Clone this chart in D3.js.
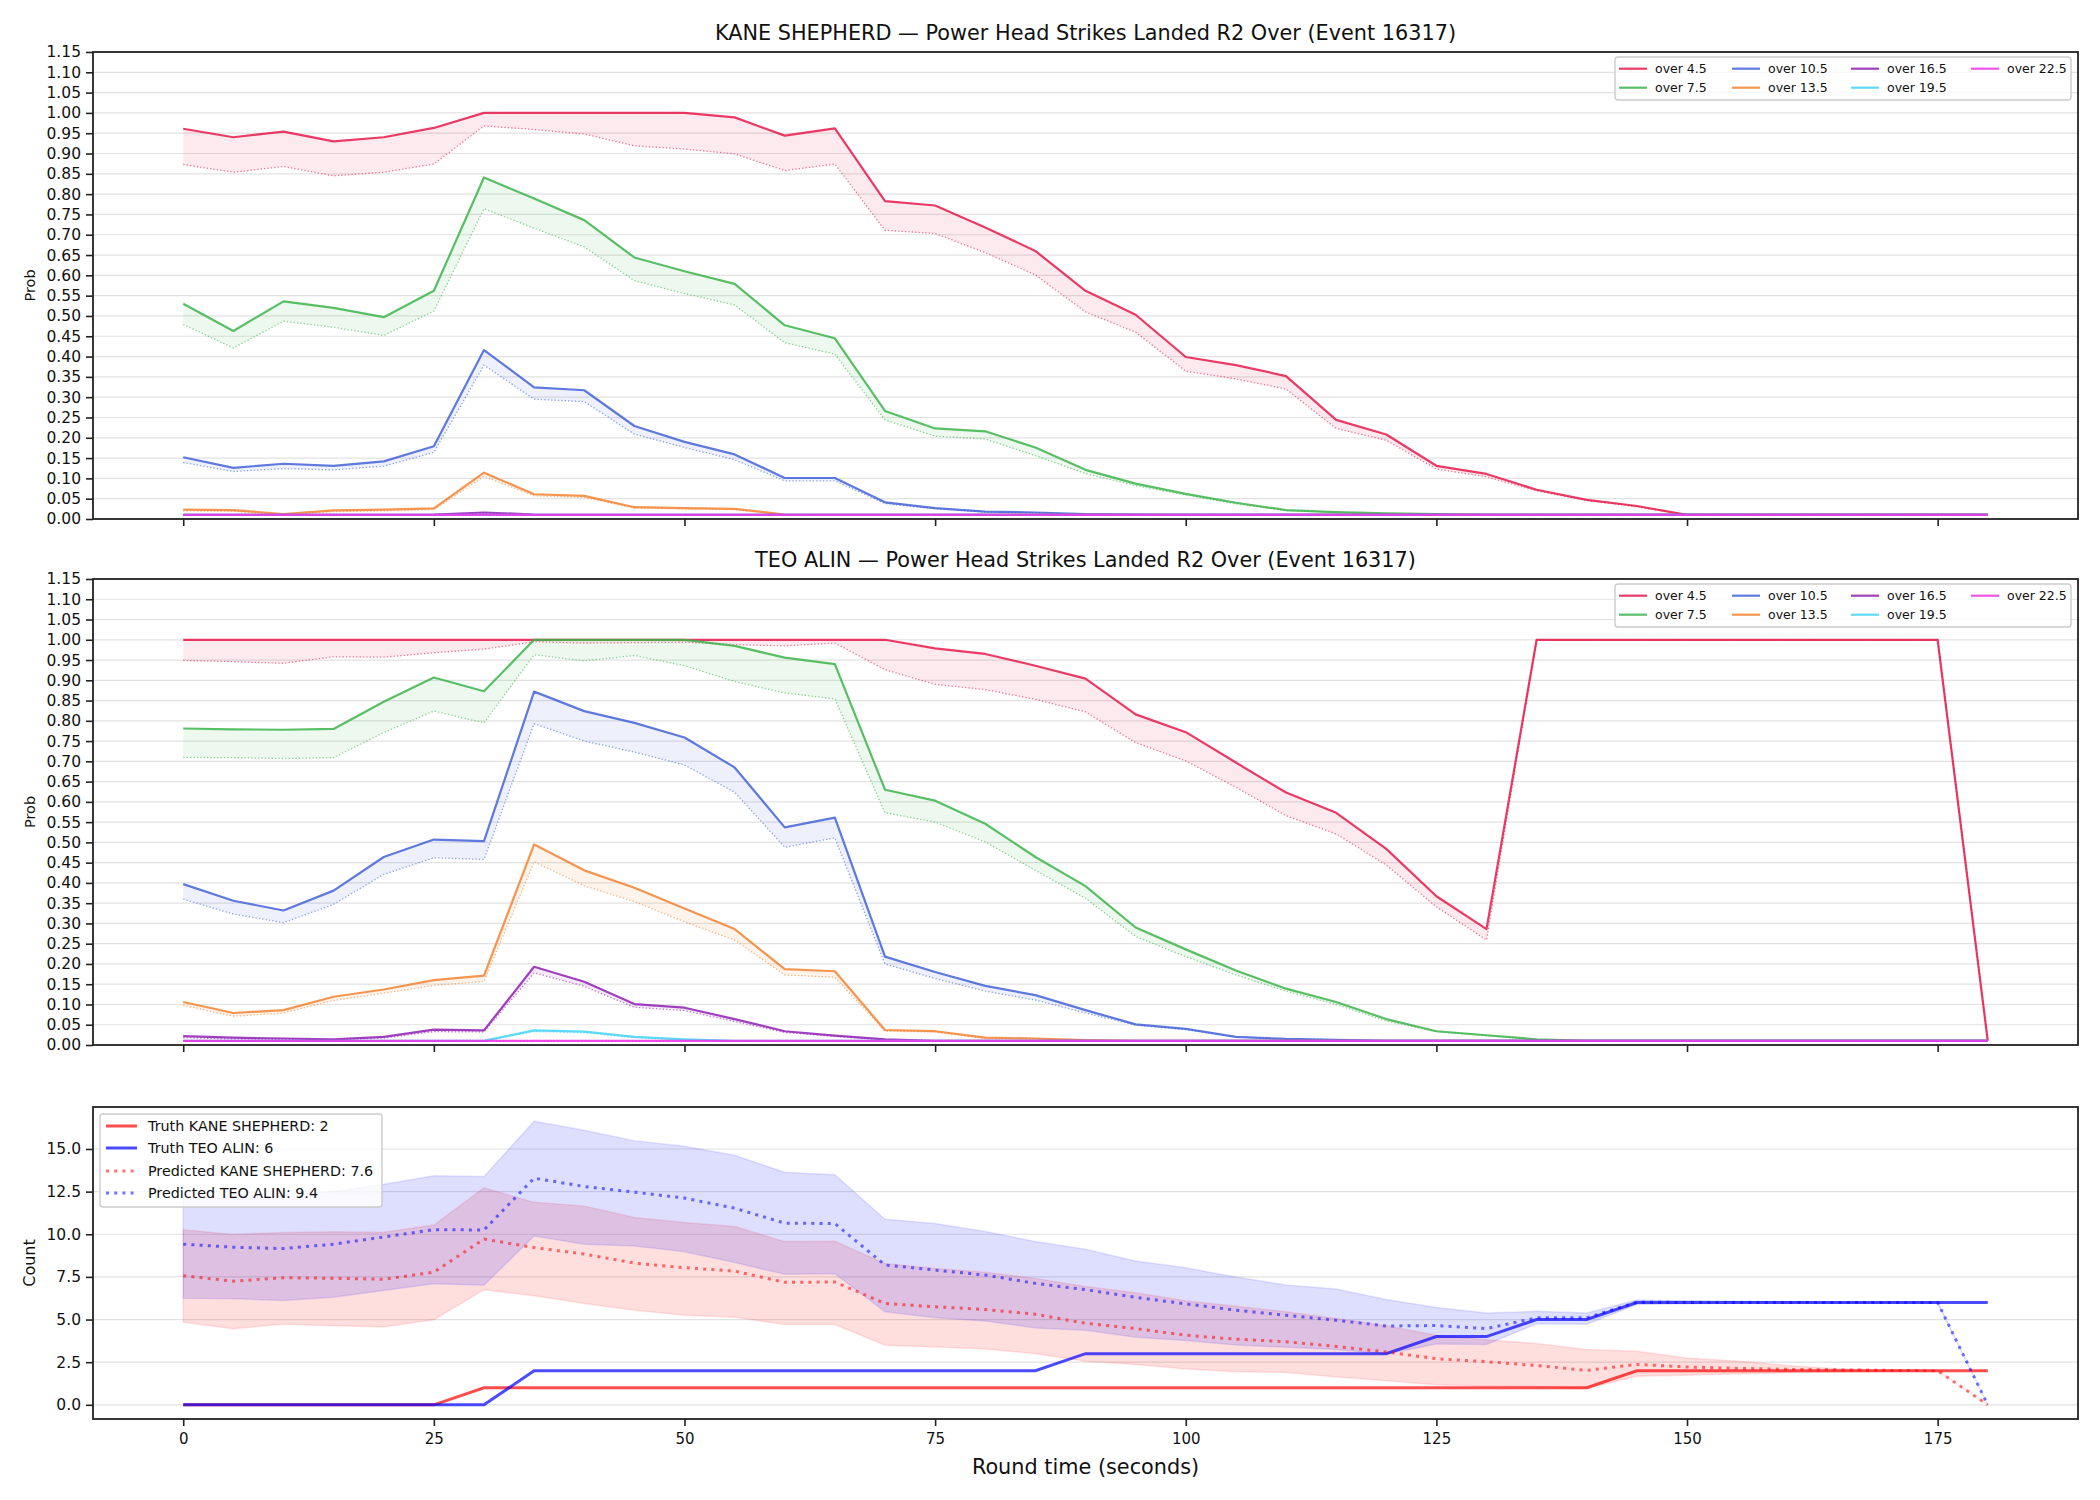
<!DOCTYPE html>
<html><head><meta charset="utf-8">
<script src="https://cdn.jsdelivr.net/npm/d3@7"></script>
<style>body{margin:0;background:#fff;}svg{display:block;font-family:"DejaVu Sans",sans-serif;}</style>
</head><body>
<svg id="chart" width="2100" height="1500"></svg>
<script>
// ---------- data ----------
const times = [0,5,10,15,20,25,30,35,40,45,50,55,60,65,70,75,80,85,90,95,100,105,110,115,120,125,130,135,140,145,150,155,160,165,170,175,180];
const lineNames = ["over 4.5","over 7.5","over 10.5","over 13.5","over 16.5","over 19.5","over 22.5"];
const lineColors = ["#e6194b","#3cb44b","#4363d8","#f58231","#911eb4","#42d4f4","#f032e6"];
const probTicks = [0,0.05,0.10,0.15,0.20,0.25,0.30,0.35,0.40,0.45,0.50,0.55,0.60,0.65,0.70,0.75,0.80,0.85,0.90,0.95,1.00,1.05,1.10,1.15];
const timeTicks = [0,25,50,75,100,125,150,175];
const countTicks = [0,2.5,5,7.5,10,12.5,15];

// KANE SHEPHERD: solid (upper) and dotted (lower) curves per line
const kane45  = [.961,.940,.954,.930,.940,.963,1,1,1,1,1,.989,.944,.962,.783,.772,.718,.660,.562,.503,.399,.379,.352,.244,.208,.131,.111,.072,.047,.032,.01,.01,.01,.01,.01,.01,.01];
const kane45b = [.873,.854,.868,.845,.854,.874,.968,.959,.948,.919,.911,.899,.858,.874,.711,.703,.656,.601,.51,.46,.364,.345,.32,.223,.194,.123,.104,.069,.046,.03,.01,.01,.01,.01,.01,.01,.01];
const kane75  = [.530,.463,.536,.520,.497,.562,.841,.789,.736,.644,.610,.579,.477,.445,.266,.223,.216,.176,.121,.087,.062,.040,.022,.017,.014,.012,.01,.01,.01,.01,.01,.01,.01,.01,.01,.01,.01];
const kane75b = [.479,.421,.487,.472,.452,.512,.764,.716,.670,.587,.555,.527,.434,.406,.244,.204,.197,.156,.112,.082,.059,.037,.021,.016,.013,.011,.01,.01,.01,.01,.01,.01,.01,.01,.01,.01,.01];
const kane105 = [.152,.126,.136,.131,.142,.179,.416,.324,.317,.229,.190,.159,.101,.101,.041,.027,.018,.016,.012,.011,.01,.01,.01,.01,.01,.01,.01,.01,.01,.01,.01,.01,.01,.01,.01,.01,.01];
const kane105b= [.139,.117,.124,.121,.130,.164,.379,.295,.289,.209,.176,.146,.094,.094,.038,.025,.017,.015,.012,.011,.01,.01,.01,.01,.01,.01,.01,.01,.01,.01,.01,.01,.01,.01,.01,.01,.01];
const kane135 = [.023,.022,.012,.021,.023,.026,.114,.061,.057,.029,.027,.025,.011,.01,.01,.01,.01,.01,.01,.01,.01,.01,.01,.01,.01,.01,.01,.01,.01,.01,.01,.01,.01,.01,.01,.01,.01];
const kane135b= [.020,.019,.011,.018,.020,.023,.105,.057,.053,.027,.025,.023,.010,.01,.01,.01,.01,.01,.01,.01,.01,.01,.01,.01,.01,.01,.01,.01,.01,.01,.01,.01,.01,.01,.01,.01,.01];
const kane165 = [.01,.01,.01,.01,.01,.011,.016,.011,.01,.01,.01,.01,.01,.01,.01,.01,.01,.01,.01,.01,.01,.01,.01,.01,.01,.01,.01,.01,.01,.01,.01,.01,.01,.01,.01,.01,.01];
const kane165b= [.01,.01,.01,.01,.01,.011,.014,.01,.01,.01,.01,.01,.01,.01,.01,.01,.01,.01,.01,.01,.01,.01,.01,.01,.01,.01,.01,.01,.01,.01,.01,.01,.01,.01,.01,.01,.01];
const kane195 = [.01,.01,.01,.01,.01,.01,.01,.01,.01,.01,.01,.01,.01,.01,.01,.01,.01,.01,.01,.01,.01,.01,.01,.01,.01,.01,.01,.01,.01,.01,.01,.01,.01,.01,.01,.01,.01];
const kane195b= kane195;
const kane225 = [.01,.01,.01,.01,.01,.01,.01,.01,.01,.01,.01,.01,.01,.01,.01,.01,.01,.01,.01,.01,.01,.01,.01,.01,.01,.01,.01,.01,.01,.01,.01,.01,.01,.01,.01,.01,.01];
const kane225b= kane225;

// TEO ALIN
const teo45  = [1,1,1,1,1,1,1,1,1,1,1,1,1,1,1,.979,.965,.936,.904,.816,.772,.697,.623,.573,.484,.367,.286,1,1,1,1,1,1,1,1,1,.01];
const teo45b = [.949,.946,.942,.958,.957,.968,.977,.995,.992,.993,.994,.988,.985,.992,.926,.890,.877,.853,.822,.746,.701,.636,.566,.521,.444,.341,.259,1,1,1,1,1,1,1,1,1,.01];
const teo75  = [.781,.779,.778,.780,.847,.907,.873,1,1,1,1,.985,.956,.940,.630,.603,.546,.464,.392,.290,.236,.184,.139,.106,.064,.034,.024,.014,.01,.01,.01,.01,.01,.01,.01,.01,.01];
const teo75b = [.710,.709,.707,.709,.771,.824,.795,.963,.948,.961,.936,.897,.869,.854,.573,.550,.501,.431,.362,.268,.218,.173,.133,.100,.059,.033,.023,.013,.01,.01,.01,.01,.01,.01,.01,.01,.01];
const teo105 = [.397,.356,.332,.381,.464,.507,.503,.872,.824,.795,.759,.685,.537,.561,.218,.180,.146,.123,.086,.051,.040,.020,.015,.013,.01,.01,.01,.01,.01,.01,.01,.01,.01,.01,.01,.01,.01];
const teo105b= [.360,.323,.302,.347,.421,.462,.458,.793,.750,.723,.691,.624,.488,.511,.200,.164,.133,.111,.079,.049,.038,.020,.015,.013,.01,.01,.01,.01,.01,.01,.01,.01,.01,.01,.01,.01,.01];
const teo135 = [.106,.079,.086,.119,.137,.160,.171,.495,.431,.388,.337,.286,.187,.182,.037,.034,.018,.016,.012,.01,.01,.01,.01,.01,.01,.01,.01,.01,.01,.01,.01,.01,.01,.01,.01,.01,.01];
const teo135b= [.098,.071,.079,.110,.128,.147,.157,.452,.393,.354,.304,.259,.173,.167,.034,.032,.016,.015,.012,.01,.01,.01,.01,.01,.01,.01,.01,.01,.01,.01,.01,.01,.01,.01,.01,.01,.01];
const teo165 = [.022,.018,.016,.014,.020,.038,.036,.193,.156,.101,.092,.064,.034,.023,.014,.01,.01,.01,.01,.01,.01,.01,.01,.01,.01,.01,.01,.01,.01,.01,.01,.01,.01,.01,.01,.01,.01];
const teo165b= [.018,.015,.014,.013,.017,.033,.032,.178,.145,.093,.085,.058,.031,.021,.013,.01,.01,.01,.01,.01,.01,.01,.01,.01,.01,.01,.01,.01,.01,.01,.01,.01,.01,.01,.01,.01,.01];
const teo195 = [.01,.01,.01,.01,.01,.01,.01,.036,.033,.020,.014,.01,.01,.01,.01,.01,.01,.01,.01,.01,.01,.01,.01,.01,.01,.01,.01,.01,.01,.01,.01,.01,.01,.01,.01,.01,.01];
const teo195b= [.01,.01,.01,.01,.01,.01,.01,.033,.030,.018,.013,.01,.01,.01,.01,.01,.01,.01,.01,.01,.01,.01,.01,.01,.01,.01,.01,.01,.01,.01,.01,.01,.01,.01,.01,.01,.01];
const teo225 = [.01,.01,.01,.01,.01,.01,.01,.01,.01,.01,.01,.01,.01,.01,.01,.01,.01,.01,.01,.01,.01,.01,.01,.01,.01,.01,.01,.01,.01,.01,.01,.01,.01,.01,.01,.01,.01];
const teo225b= teo225;

// Count panel
const truthKane = [0,0,0,0,0,0,1,1,1,1,1,1,1,1,1,1,1,1,1,1,1,1,1,1,1,1,1,1,1,2,2,2,2,2,2,2,2];
const truthTeo  = [0,0,0,0,0,0,0,2,2,2,2,2,2,2,2,2,2,2,3,3,3,3,3,3,3,4,4,5,5,6,6,6,6,6,6,6,6];
const predKane  = [7.57,7.25,7.45,7.42,7.36,7.78,9.72,9.22,8.84,8.31,8.04,7.84,7.18,7.20,5.94,5.75,5.59,5.31,4.78,4.47,4.08,3.85,3.70,3.42,3.10,2.70,2.53,2.30,2.02,2.37,2.22,2.14,2.08,2.05,2.02,2.0,0];
const predTeo   = [9.42,9.24,9.16,9.42,9.84,10.27,10.25,13.29,12.80,12.47,12.12,11.53,10.65,10.63,8.20,7.90,7.61,7.12,6.75,6.30,5.92,5.55,5.25,4.96,4.62,4.65,4.47,5.10,5.10,6.02,6.0,6.0,6.0,6.0,6.0,6.0,0];
const kaneHi = [10.27,9.99,10.11,10.15,10.12,10.54,12.72,11.87,11.65,10.98,10.69,10.45,9.57,9.59,8.29,8.0,7.78,7.41,6.94,6.57,6.10,5.78,5.45,5.06,4.63,4.08,3.82,3.59,3.24,3.14,2.75,2.57,2.31,2.12,2.06,2.0,0];
const kaneLo = [4.84,4.46,4.73,4.64,4.56,4.99,6.75,6.39,5.94,5.55,5.25,5.14,4.71,4.71,3.49,3.39,3.27,3.0,2.56,2.36,2.10,1.94,1.89,1.63,1.41,1.17,1.11,1.07,0.95,1.67,1.73,1.82,1.88,1.93,1.97,2.0,0];
const teoHi  = [12.2,12.1,12.3,12.5,12.93,13.43,13.38,16.63,16.10,15.49,15.16,14.63,13.63,13.49,10.88,10.63,10.16,9.57,9.12,8.43,8.03,7.49,7.03,6.79,6.18,5.70,5.39,5.48,5.39,6.14,6.1,6.08,6.06,6.05,6.05,6.05,0];
const teoLo  = [6.25,6.22,6.11,6.30,6.70,7.10,7.01,9.90,9.41,9.31,8.98,8.35,7.65,7.69,5.45,5.10,4.92,4.51,4.37,3.96,3.77,3.51,3.37,3.25,2.98,3.57,3.54,4.75,4.72,5.88,5.93,5.95,5.95,5.95,5.95,5.95,0];

const kaneSeries = [[kane45,kane45b],[kane75,kane75b],[kane105,kane105b],[kane135,kane135b],[kane165,kane165b],[kane195,kane195b],[kane225,kane225b]];
const teoSeries  = [[teo45,teo45b],[teo75,teo75b],[teo105,teo105b],[teo135,teo135b],[teo165,teo165b],[teo195,teo195b],[teo225,teo225b]];

// ---------- layout ----------
const svg = d3.select("#chart");
svg.append("rect").attr("width",2100).attr("height",1500).attr("fill","#fff");
const L = 93, R = 2078;
const panels = [{top:52,bottom:519},{top:579,bottom:1045},{top:1107,bottom:1419}];
const x = d3.scaleLinear().domain([-9,189]).range([L,R]);
const FONT = "DejaVu Sans";

function styleAxis(g, fs){
  g.select(".domain").remove();
  g.selectAll(".tick line").attr("stroke","#222").attr("stroke-width",1.6);
  g.selectAll(".tick text").attr("fill","#111").attr("font-size",fs).attr("font-family",FONT);
}

function grid(g, y, ticks){
  g.append("g").selectAll("line").data(ticks).join("line")
    .attr("x1",L).attr("x2",R).attr("y1",d=>y(d)).attr("y2",d=>y(d))
    .attr("stroke","#e2e2e2").attr("stroke-width",1.2);
}

function frame(g, p){
  g.append("rect").attr("x",L).attr("y",p.top).attr("width",R-L).attr("height",p.bottom-p.top)
    .attr("fill","none").attr("stroke","#222").attr("stroke-width",1.8);
}

function probPanel(p, series, title){
  const g = svg.append("g");
  const y = d3.scaleLinear().domain([0,1.15]).range([p.bottom,p.top]);
  grid(g, y, probTicks);
  series.forEach((s,i)=>{
    const col = lineColors[i];
    const pts = times.map((t,j)=>({t, hi:s[0][j], lo:s[1][j]}));
    g.append("path").datum(pts)
      .attr("d", d3.area().x(d=>x(d.t)).y0(d=>y(d.lo)).y1(d=>y(d.hi)))
      .attr("fill", col).attr("fill-opacity",0.09).attr("stroke","none");
    g.append("path").datum(pts)
      .attr("d", d3.line().x(d=>x(d.t)).y(d=>y(d.hi)))
      .attr("fill","none").attr("stroke",col).attr("stroke-width",2.2).attr("stroke-opacity",0.85)
      .attr("stroke-linejoin","round");
    g.append("path").datum(pts)
      .attr("d", d3.line().x(d=>x(d.t)).y(d=>y(d.lo)))
      .attr("fill","none").attr("stroke",col).attr("stroke-width",1.3).attr("stroke-opacity",0.6)
      .attr("stroke-dasharray","1.3 2.1");
  });
  const ya = g.append("g").attr("transform",`translate(${L},0)`)
    .call(d3.axisLeft(y).tickValues(probTicks).tickFormat(d3.format(".2f")).tickSize(7).tickPadding(5));
  styleAxis(ya, "15.5px");
  const xa = g.append("g").attr("transform",`translate(0,${p.bottom})`)
    .call(d3.axisBottom(x).tickValues(timeTicks).tickFormat("").tickSize(7));
  styleAxis(xa, "15px");
  frame(g, p);
  g.append("text").attr("x",(L+R)/2).attr("y",p.top-12.5).attr("text-anchor","middle")
    .attr("font-size","20.8px").attr("fill","#111").text(title);
  g.append("text").attr("transform",`translate(35,${(p.top+p.bottom)/2}) rotate(-90)`)
    .attr("text-anchor","middle").attr("font-size","14.5px").attr("fill","#111").text("Prob");
  // legend
  const lx = R-7-456, ly = p.top+5;
  const lg = g.append("g");
  lg.append("rect").attr("x",lx).attr("y",ly).attr("width",456).attr("height",43).attr("rx",3)
    .attr("fill","#fff").attr("fill-opacity",0.8).attr("stroke","#cccccc").attr("stroke-width",1.4);
  const colX = [4,117,236,356], rowY = [11.7,30.7];
  lineNames.forEach((n,i)=>{
    const cx = lx+colX[Math.floor(i/2)], cy = ly+rowY[i%2];
    lg.append("line").attr("x1",cx).attr("x2",cx+28).attr("y1",cy).attr("y2",cy)
      .attr("stroke",lineColors[i]).attr("stroke-width",2.2).attr("stroke-opacity",0.85);
    lg.append("text").attr("x",cx+36).attr("y",cy).attr("dy","0.36em")
      .attr("font-size","12.5px").attr("fill","#111").text(n);
  });
}

probPanel(panels[0], kaneSeries, "KANE SHEPHERD — Power Head Strikes Landed R2 Over (Event 16317)");
probPanel(panels[1], teoSeries, "TEO ALIN — Power Head Strikes Landed R2 Over (Event 16317)");

// ---------- count panel ----------
(function(){
  const p = panels[2];
  const g = svg.append("g");
  const all = [].concat(truthKane,truthTeo,predKane,predTeo,kaneHi,kaneLo,teoHi,teoLo);
  const mn = d3.min(all), mx = d3.max(all), m = (mx-mn)*0.05;
  const y = d3.scaleLinear().domain([mn-m, mx+m]).range([p.bottom,p.top]);
  grid(g, y, countTicks);
  const rows = times.map((t,j)=>({t, tk:truthKane[j], tt:truthTeo[j], pk:predKane[j], pt:predTeo[j],
    kh:kaneHi[j], kl:kaneLo[j], th:teoHi[j], tl:teoLo[j]}));
  const RED = "#ff0000", BLUE = "#0000ff";
  g.append("path").datum(rows).attr("d", d3.area().x(d=>x(d.t)).y0(d=>y(d.kl)).y1(d=>y(d.kh)))
    .attr("fill",RED).attr("fill-opacity",0.13).attr("stroke",RED).attr("stroke-opacity",0.1).attr("stroke-width",1.5);
  g.append("path").datum(rows).attr("d", d3.area().x(d=>x(d.t)).y0(d=>y(d.tl)).y1(d=>y(d.th)))
    .attr("fill",BLUE).attr("fill-opacity",0.13).attr("stroke",BLUE).attr("stroke-opacity",0.1).attr("stroke-width",1.5);
  const line = k => d3.line().x(d=>x(d.t)).y(d=>y(d[k]));
  g.append("path").datum(rows).attr("d",line("tk")).attr("fill","none").attr("stroke",RED)
    .attr("stroke-opacity",0.7).attr("stroke-width",3);
  g.append("path").datum(rows).attr("d",line("tt")).attr("fill","none").attr("stroke",BLUE)
    .attr("stroke-opacity",0.7).attr("stroke-width",3);
  g.append("path").datum(rows).attr("d",line("pk")).attr("fill","none").attr("stroke",RED)
    .attr("stroke-opacity",0.55).attr("stroke-width",3).attr("stroke-dasharray","3 5.2");
  g.append("path").datum(rows).attr("d",line("pt")).attr("fill","none").attr("stroke",BLUE)
    .attr("stroke-opacity",0.55).attr("stroke-width",3).attr("stroke-dasharray","3 5.2");

  const ya = g.append("g").attr("transform",`translate(${L},0)`)
    .call(d3.axisLeft(y).tickValues(countTicks).tickFormat(d3.format(".1f")).tickSize(7).tickPadding(5));
  styleAxis(ya, "15.5px");
  const xa = g.append("g").attr("transform",`translate(0,${p.bottom})`)
    .call(d3.axisBottom(x).tickValues(timeTicks).tickSize(7).tickPadding(7));
  styleAxis(xa, "15px");
  frame(g, p);
  g.append("text").attr("transform",`translate(35,${(p.top+p.bottom)/2}) rotate(-90)`)
    .attr("text-anchor","middle").attr("font-size","16px").attr("fill","#111").text("Count");
  g.append("text").attr("x",(L+R)/2).attr("y",1474).attr("text-anchor","middle")
    .attr("font-size","20.8px").attr("fill","#111").text("Round time (seconds)");

  // legend
  const lx = L+7, ly = p.top+7;
  const lg = g.append("g");
  lg.append("rect").attr("x",lx).attr("y",ly).attr("width",282).attr("height",93).attr("rx",3)
    .attr("fill","#fff").attr("fill-opacity",0.8).attr("stroke","#cccccc").attr("stroke-width",1.4);
  const items = [
    {label:"Truth KANE SHEPHERD: 2", col:RED, dash:null, op:0.7},
    {label:"Truth TEO ALIN: 6", col:BLUE, dash:null, op:0.7},
    {label:"Predicted KANE SHEPHERD: 7.6", col:RED, dash:"3 5.2", op:0.55},
    {label:"Predicted TEO ALIN: 9.4", col:BLUE, dash:"3 5.2", op:0.55}
  ];
  const rowY = [12,34,57,79];
  items.forEach((it,i)=>{
    const cy = ly+rowY[i];
    const ln = lg.append("line").attr("x1",lx+6).attr("x2",lx+37).attr("y1",cy).attr("y2",cy)
      .attr("stroke",it.col).attr("stroke-width",3).attr("stroke-opacity",it.op);
    if(it.dash) ln.attr("stroke-dasharray",it.dash);
    lg.append("text").attr("x",lx+48).attr("y",cy).attr("dy","0.36em")
      .attr("font-size","14.3px").attr("fill","#111").text(it.label);
  });
})();
</script>
</body></html>
